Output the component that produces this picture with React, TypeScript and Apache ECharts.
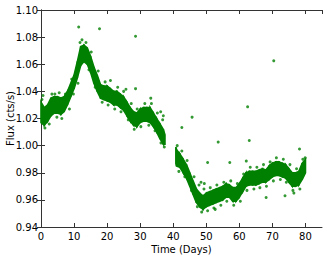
import React, { useEffect, useRef } from "react";
import * as echarts from "echarts";

// Band envelope of the dense light-curve points
const times1 = [0,1,2,3,4,5,6,7,8,9,10,11,12,13,14,15,16,17,18,19,20,21,22,23,24,25,26,27,28,29,30,31,32,33,34,35,36,37,37.5];
const lower1 = [1.017,1.015,1.018,1.022,1.024,1.024,1.023,1.025,1.030,1.036,1.042,1.050,1.059,1.062,1.060,1.054,1.046,1.040,1.035,1.034,1.033,1.032,1.030,1.030,1.028,1.026,1.022,1.018,1.015,1.014,1.017,1.018,1.018,1.017,1.014,1.010,1.005,1.001,1.001];
const upper1 = [1.032,1.028,1.030,1.035,1.036,1.036,1.035,1.036,1.040,1.046,1.052,1.062,1.073,1.074,1.072,1.066,1.058,1.052,1.045,1.044,1.044,1.042,1.040,1.040,1.038,1.036,1.032,1.028,1.025,1.024,1.027,1.028,1.028,1.028,1.024,1.020,1.016,1.012,1.008];

const times2 = [40.8,41,42,43,44,45,46,47,48,49,50,51,52,53,54,55,56,57,58,59,60,61,62,63,64,65,66,67,68,69,70,71,72,73,74,75,76,77,78,79,80];
const lower2 = [0.987,0.985,0.984,0.980,0.976,0.970,0.964,0.958,0.955,0.953,0.955,0.956,0.957,0.958,0.959,0.960,0.962,0.962,0.959,0.959,0.962,0.966,0.970,0.971,0.971,0.971,0.972,0.973,0.973,0.975,0.977,0.978,0.978,0.977,0.976,0.973,0.970,0.970,0.971,0.975,0.980];
const upper2 = [0.999,0.997,0.994,0.990,0.986,0.980,0.974,0.968,0.965,0.963,0.965,0.966,0.967,0.968,0.969,0.970,0.972,0.971,0.969,0.969,0.972,0.976,0.980,0.981,0.981,0.981,0.982,0.983,0.982,0.985,0.987,0.988,0.988,0.987,0.986,0.983,0.980,0.980,0.981,0.987,0.990];

// Individual points around the band edges
const fringePoints = [
  [0.3,1.034],[0.6,1.037],[1.2,1.013],[2.5,1.016],[3.3,1.038],[4.2,1.038],[4.8,1.021],[5.5,1.039],[6.3,1.020],[7.4,1.038],
  [8.6,1.027],[9.3,1.049],[9.8,1.038],[10.7,1.055],[11.2,1.046],[11.8,1.076],[12.4,1.078],[13.6,1.076],[14.5,1.056],[15.2,1.069],
  [16.4,1.043],[17.3,1.055],[18.5,1.032],[19.4,1.047],[20.3,1.030],[21.0,1.048],[22.3,1.027],[23.2,1.043],[24.2,1.025],[25.0,1.040],
  [26.4,1.019],[27.3,1.031],[28.2,1.012],[29.1,1.027],[30.2,1.014],[31.4,1.031],[32.6,1.015],[33.4,1.031],[34.5,1.011],[35.2,1.024],
  [36.3,1.002],[36.8,1.019],[37.3,0.999],
  [41.2,1.000],[41.7,0.981],[42.6,0.996],[43.5,0.977],[44.2,0.989],[45.5,0.967],[46.3,0.977],[47.3,0.955],[47.8,0.971],[48.6,0.951],
  [49.3,0.968],[50.4,0.952],[51.2,0.969],[52.3,0.954],[53.2,0.971],[54.4,0.956],[55.3,0.973],[56.2,0.959],[57.4,0.974],[58.3,0.956],
  [59.4,0.972],[60.3,0.959],[61.3,0.979],[62.3,0.967],[63.3,0.984],[64.4,0.968],[65.3,0.984],[66.2,0.969],[67.3,0.986],[68.2,0.970],
  [69.3,0.988],[70.3,0.974],[71.2,0.991],[72.4,0.975],[73.3,0.990],[74.2,0.973],[75.3,0.986],[76.2,0.967],[77.3,0.983],[78.3,0.968],
  [79.2,0.990],[79.9,0.991],
];

// Isolated outliers
const outliers = [
  [11.4,1.0875],[17.7,1.0862],[28.6,1.0806],[70.4,1.0625],[28.6,1.042],[25.7,1.0416],[33.2,1.035],[62.5,1.0286],
  [45.7,1.021],[42.6,1.0134],[53.6,1.0026],[63.0,1.0038],[50.4,0.9876],[57.1,0.9876],[62.1,0.9886],[78.2,0.9975],
  [73.8,0.963],[68.1,0.9618],[36.2,1.025],[37.0,1.022],[48.4,0.973],[49.4,0.972],[76.5,0.965],[52.7,0.953],
];

const xTicks = { min: 0, max: 85, interval: 10 };
const yTicks = { min: 0.94, max: 1.1, interval: 0.02 };

const GREEN = "#008000";
const FONT = "DejaVu Sans";

// quads between consecutive envelope samples: [t0, lo0, hi0, t1, lo1, hi1]
function quads(times: number[], lo: number[], hi: number[]) {
  const out: number[][] = [];
  for (let i = 0; i < times.length - 1; i++) {
    out.push([times[i], lo[i], hi[i], times[i + 1], lo[i + 1], hi[i + 1]]);
  }
  return out;
}

export default function App() {
  const ref = useRef<HTMLDivElement>(null);
  useEffect(() => {
    document.body.style.margin = "0";
    const chart = echarts.init(ref.current!, null, { renderer: "svg" });
    const axisLine = { show: true, lineStyle: { color: "#333", width: 1 } };
    const axisTick = { show: true, inside: true, length: 4, lineStyle: { color: "#333" } };
    const bandData = [...quads(times1, lower1, upper1), ...quads(times2, lower2, upper2)];
    chart.setOption({
      animation: false,
      backgroundColor: "#fff",
      grid: { left: 41, right: 5, top: 10, bottom: 30, containLabel: false, outerBoundsMode: "none" },
      xAxis: [
        {
          type: "value",
          ...xTicks,
          position: "bottom",
          axisLine,
          axisTick,
          splitLine: { show: false },
          axisLabel: {
            color: "#000",
            fontSize: 10,
            fontFamily: FONT,
            margin: 4,
            showMaxLabel: false,
            formatter: (v: number) => (v > 80 ? "" : String(v)),
          },
          name: "Time (Days)",
          nameLocation: "middle",
          nameGap: 17,
          nameMoveOverlap: false,
          nameTextStyle: { color: "#000", fontSize: 10, fontFamily: FONT },
        },
        {
          type: "value",
          ...xTicks,
          position: "top",
          axisLine,
          axisTick,
          splitLine: { show: false },
          axisLabel: { show: false },
        },
      ],
      yAxis: [
        {
          type: "value",
          ...yTicks,
          position: "left",
          axisLine,
          axisTick,
          splitLine: { show: false },
          axisLabel: {
            color: "#000",
            fontSize: 10,
            fontFamily: FONT,
            margin: 3,
            formatter: (v: number) => v.toFixed(2),
          },
          name: "Flux (cts/s)",
          nameLocation: "middle",
          nameRotate: 90,
          nameGap: 26,
          nameMoveOverlap: false,
          nameTextStyle: { color: "#000", fontSize: 10, fontFamily: FONT },
        },
        {
          type: "value",
          ...yTicks,
          position: "right",
          axisLine,
          axisTick,
          splitLine: { show: false },
          axisLabel: { show: false },
        },
      ],
      series: [
        {
          type: "custom",
          data: bandData,
          encode: { x: [0, 3], y: [1, 2, 4, 5] },
          renderItem: (params: any, api: any) => {
            const p0 = api.coord([api.value(0), api.value(1)]);
            const p1 = api.coord([api.value(3), api.value(4)]);
            const p2 = api.coord([api.value(3), api.value(5)]);
            const p3 = api.coord([api.value(0), api.value(2)]);
            return {
              type: "polygon",
              shape: { points: [p0, p1, p2, p3] },
              style: { fill: GREEN, stroke: GREEN, lineWidth: 1.6 },
            };
          },
          z: 2,
        },
        {
          type: "scatter",
          data: fringePoints,
          symbol: "circle",
          symbolSize: 3,
          itemStyle: { color: GREEN },
          z: 3,
        },
        {
          type: "scatter",
          data: outliers,
          symbol: "circle",
          symbolSize: 3,
          itemStyle: { color: GREEN },
          z: 3,
        },
      ],
    });
    return () => chart.dispose();
  }, []);
  return (
    <div
      ref={ref}
      style={{ position: "fixed", left: 0, top: 0, width: 327, height: 257 }}
    />
  );
}
